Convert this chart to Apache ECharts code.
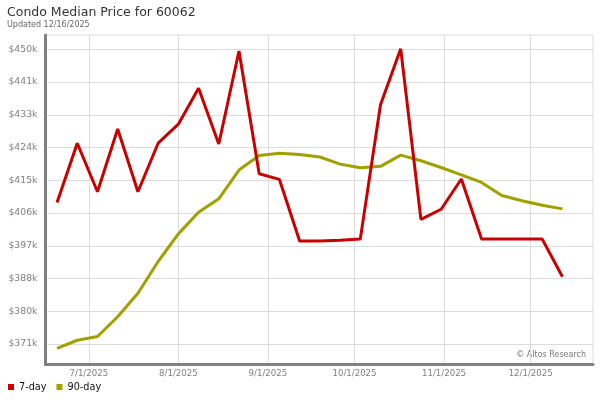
<!DOCTYPE html>
<html>
<head>
<meta charset="utf-8">
<script src="https://cdn.jsdelivr.net/npm/echarts@6.0.0/dist/echarts.min.js"></script>
<style>html,body{margin:0;padding:0;background:#fff;}#c{width:600px;height:400px;}</style>
</head>
<body>
<div id="c"></div>
<script>
// Weekly observation dates (Fridays)
const dates = ['2025-06-20','2025-06-27','2025-07-04','2025-07-11','2025-07-18','2025-07-25',
  '2025-08-01','2025-08-08','2025-08-15','2025-08-22','2025-08-29','2025-09-05','2025-09-12',
  '2025-09-19','2025-09-26','2025-10-03','2025-10-10','2025-10-17','2025-10-24','2025-10-31',
  '2025-11-07','2025-11-14','2025-11-21','2025-11-28','2025-12-05','2025-12-12'];
// Median price in $k
const sevenDay = [408.9, 424.8, 411.8, 428.6, 411.8, 424.8, 429.9, 439.5, 424.6, 449.5, 416.6, 415.1, 398.6,
  398.6, 398.8, 399.1, 435.1, 450.1, 404.4, 407.1, 415.2, 399.1, 399.1, 399.1, 399.1, 389.0];
const ninetyDay = [369.8, 372.0, 373.0, 378.3, 384.6, 393.1, 400.5, 406.3, 409.9, 417.6, 421.5, 422.1, 421.8,
  421.1, 419.2, 418.2, 418.6, 421.6, 420.1, 418.3, 416.3, 414.3, 410.8, 409.4, 408.2, 407.2];
// Y tick positions ($k) and their labels
const yTickValues = [371.0, 379.8, 388.6, 397.3, 406.1, 414.9, 423.7, 432.4, 441.2, 450.0];
const yTickLabels = ['$371k','$380k','$388k','$397k','$406k','$415k','$424k','$433k','$441k','$450k'];
// X tick dates and labels
const xTickDates = ['2025-07-01','2025-08-01','2025-09-01','2025-10-01','2025-11-01','2025-12-01'];
const xTickLabels = ['7/1/2025','8/1/2025','9/1/2025','10/1/2025','11/1/2025','12/1/2025'];

const ts = d => Date.parse(d + 'T00:00:00Z');
const xTicks = xTickDates.map(ts);
const font = 'DejaVu Sans';

function nearestLabel(vals, labels, v) {
  let bi = 0, bd = Infinity;
  vals.forEach((t, i) => { const d = Math.abs(t - v); if (d < bd) { bd = d; bi = i; } });
  return labels[bi];
}

const chart = echarts.init(document.getElementById('c'), null, {renderer: 'canvas'});
chart.setOption({
  animation: false,
  backgroundColor: '#fff',
  title: {
    text: 'Condo Median Price for 60062',
    subtext: 'Updated 12/16/2025',
    left: 7, top: 6, itemGap: 2, padding: 0,
    textStyle: {fontFamily: font, fontSize: 12.5, fontWeight: 'normal', color: '#333'},
    subtextStyle: {fontFamily: font, fontSize: 8, color: '#666'}
  },
  legend: {
    left: 8, top: 382, padding: 0, itemWidth: 6, itemHeight: 6, itemGap: 10,
    icon: 'rect',
    textStyle: {fontFamily: font, fontSize: 9.7, color: '#111'},
    data: ['7-day', '90-day']
  },
  grid: {
    left: 45.5, right: 7, top: 35, bottom: 35.5,
    show: true, borderColor: '#dcdcdc', borderWidth: 1, containLabel: false
  },
  xAxis: {
    type: 'value',
    min: Date.parse('2025-06-16T00:00:00Z'),
    max: Date.parse('2025-12-22T14:00:00Z'),
    axisLine: {show: true, lineStyle: {color: '#808080', width: 3}},
    axisTick: {show: false, customValues: xTicks},
    axisLabel: {
      customValues: xTicks, margin: 5, fontFamily: font, fontSize: 8.6, color: '#808080',
      formatter: v => nearestLabel(xTicks, xTickLabels, v)
    },
    splitLine: {show: true, lineStyle: {color: '#dcdcdc', width: 1}}
  },
  yAxis: {
    type: 'value',
    min: 365.5, max: 453.8,
    axisLine: {show: true, lineStyle: {color: '#808080', width: 3}},
    axisTick: {show: false, customValues: yTickValues},
    axisLabel: {
      customValues: yTickValues, margin: 8, fontFamily: font, fontSize: 9.3, color: '#808080',
      formatter: v => nearestLabel(yTickValues, yTickLabels, v)
    },
    splitLine: {show: true, lineStyle: {color: '#dcdcdc', width: 1}}
  },
  graphic: [{
    type: 'text', right: 14, top: 350.5,
    style: {text: '\u00a9 Altos Research', font: '8px "DejaVu Sans"', fill: '#777'}
  }],
  series: [
    {
      name: '7-day', type: 'line', symbol: 'none', color: '#c80000',
      lineStyle: {width: 3, color: '#c80000'},
      data: dates.map((d, i) => [ts(d), sevenDay[i]]), z: 3
    },
    {
      name: '90-day', type: 'line', symbol: 'none', color: '#a0a000',
      lineStyle: {width: 3, color: '#a0a000'},
      data: dates.map((d, i) => [ts(d), ninetyDay[i]]), z: 2
    }
  ]
});
</script>
</body>
</html>
